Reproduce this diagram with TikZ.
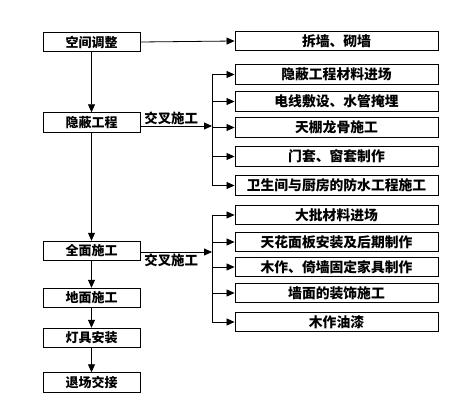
\documentclass[tikz,border=0pt]{standalone}
\usepackage{fontspec}
\setmainfont{Noto Sans CJK SC}
\usetikzlibrary{arrows.meta}
\begin{document}
\begin{tikzpicture}[x=1pt,y=-1pt,
  box/.style={draw, line width=0.9pt, minimum height=19.5pt, inner sep=0pt, font=\fontsize{13}{13}\selectfont\bfseries},
  lbox/.style={box, minimum width=97pt},
  rbox/.style={box, minimum width=203pt, font=\fontsize{13.8}{13.8}\selectfont\bfseries},
  arr/.style={line width=0.8pt, -{Triangle[length=8pt,width=7pt]}},
  ln/.style={line width=0.8pt},
  lab/.style={font=\fontsize{13.4}{13.4}\selectfont\bfseries, inner sep=1pt}]
\useasboundingbox (0,0) rectangle (466,414);
% left column
\node[lbox] (a1) at (91.5,42) {空间调整};
\node[lbox] (a2) at (91.5,122.5) {隐蔽工程};
\node[lbox] (a3) at (91.5,251) {全面施工};
\node[lbox] (a4) at (91.5,298) {地面施工};
\node[lbox] (a5) at (91.5,338) {灯具安装};
\node[lbox] (a6) at (91.5,382.5) {退场交接};
% right column
\node[rbox] (r0) at (336.5,41) {拆墙、砌墙};
\node[rbox] (b1) at (336.5,74.5) {隐蔽工程材料进场};
\node[rbox] (b2) at (336.5,101.5) {电线敷设、水管掩埋};
\node[rbox] (b3) at (336.5,127.5) {天棚龙骨施工};
\node[rbox] (b4) at (336.5,156.5) {门套、窗套制作};
\node[rbox] (b5) at (336.5,185.5) {卫生间与厨房的防水工程施工};
\node[rbox] (c1) at (336.5,215) {大批材料进场};
\node[rbox] (c2) at (336.5,242) {天花面板安装及后期制作};
\node[rbox] (c3) at (336.5,267) {木作、倚墙固定家具制作};
\node[rbox] (c4) at (336.5,293) {墙面的装饰施工};
\node[rbox] (c5) at (336.5,322) {木作油漆};
% junctions
\coordinate (j1) at (212,126);
\coordinate (j2) at (212,252);
% left column flow
\draw[arr] (a1.south) -- (a2.north);
\draw[arr] (a2.south) -- (a3.north);
\draw[arr] (a3.south) -- (a4.north);
\draw[arr] (a4.south) -- (a5.north);
\draw[arr] (a5.south) -- (a6.north);
% top
\draw[arr] (a1.east) -- (r0.west);
% group 1
\draw[arr] (a2.east |- j1) -- node[lab, pos=0.43, above] {交叉施工} (j1);
\draw[ln] (b1.west -| j1) -- (b5.west -| j1);
\foreach \n in {b1,b2,b3,b4,b5} \draw[arr] (\n.west -| j1) -- (\n.west);
% group 2
\draw[arr] (a3.east |- j2) -- node[lab, pos=0.43, below] {交叉施工} (j2);
\draw[ln] (c1.west -| j2) -- (c5.west -| j2);
\foreach \n in {c1,c2,c3,c4,c5} \draw[arr] (\n.west -| j2) -- (\n.west);
\end{tikzpicture}
\end{document}
